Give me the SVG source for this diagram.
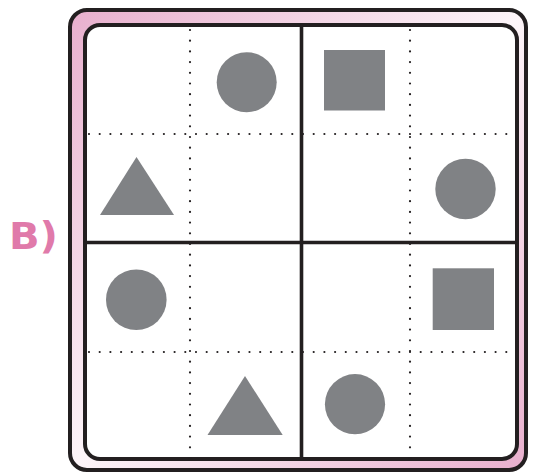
<svg xmlns="http://www.w3.org/2000/svg" width="534" height="472" viewBox="0 0 534 472">
<defs>
<linearGradient id="pinkg" x1="0" y1="0" x2="1" y2="1">
<stop offset="0" stop-color="#e8afcd"/>
<stop offset="0.5" stop-color="#fdf5f9"/>
<stop offset="1" stop-color="#e8afcd"/>
</linearGradient>
<style>
.frame{stroke:#231f20;stroke-width:4}
.solid{stroke:#231f20;stroke-width:3.6;fill:none}
.dot{stroke:#231f20;stroke-width:2.2;stroke-linecap:round;stroke-dasharray:0 10.7;fill:none}
.shape{fill:#808285}
.label{font-family:"DejaVu Sans","Liberation Sans",sans-serif;font-weight:bold;fill:#e07aaa}
</style>
</defs>
<rect width="534" height="472" fill="#ffffff"/>
<g id="label"><text class="label" x="9" y="249" font-size="37" textLength="49" lengthAdjust="spacingAndGlyphs">B)</text></g>
<g id="board">
<rect class="frame" x="70" y="10" width="456" height="460" rx="17" fill="url(#pinkg)"/>
<rect class="frame" x="85" y="25" width="432" height="434" rx="15" fill="#ffffff"/>
</g>
<g id="grid">
<line class="dot" x1="190" y1="30" x2="190" y2="458"/>
<line class="dot" x1="410" y1="30" x2="410" y2="458"/>
<line class="dot" x1="89" y1="134" x2="516" y2="134"/>
<line class="dot" x1="89" y1="352" x2="516" y2="352"/>
<line class="solid" x1="301.5" y1="26" x2="301.5" y2="458"/>
<line class="solid" x1="86" y1="242.5" x2="516" y2="242.5"/>
</g>
<g id="shapes">
<circle class="shape" cx="246.7" cy="82.3" r="30"/>
<rect class="shape" x="324" y="50" width="61" height="60.5"/>
<polygon class="shape" points="136.5,157 174,215 100,215"/>
<circle class="shape" cx="465.5" cy="189" r="30.2"/>
<circle class="shape" cx="136.3" cy="299.7" r="30.3"/>
<rect class="shape" x="432.7" y="268.3" width="61.3" height="61.7"/>
<polygon class="shape" points="245,376 282.7,435 207.5,435"/>
<circle class="shape" cx="355" cy="404.2" r="30.1"/>
</g>
</svg>
